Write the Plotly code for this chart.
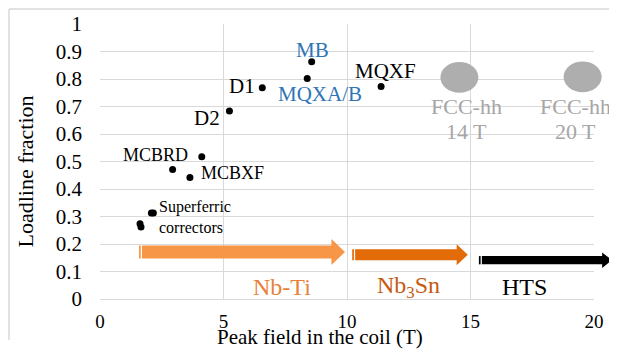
import plotly.graph_objects as go

# ---- data ----
magnets = ["MB", "MQXA/B", "D1", "MQXF", "D2", "MCBRD", "MCBRD-2", "MCBXF",
           "Superferric 1", "Superferric 2", "Superferric 3", "Superferric 4"]
peak_field = [8.57, 8.39, 6.57, 11.38, 5.24, 4.12, 2.94, 3.64, 2.08, 2.16, 1.62, 1.66]
loadline = [0.863, 0.802, 0.768, 0.773, 0.684, 0.517, 0.471, 0.442, 0.313, 0.313, 0.274, 0.262]

label_text = ["MB", "MQXA/B", "D1", "MQXF", "D2", "MCBRD", "MCBXF"]
label_x = [8.62, 8.91, 5.74, 11.54, 4.33, 2.23, 5.36]
label_y = [0.905, 0.745, 0.774, 0.829, 0.657, 0.523, 0.46]
label_size = [21, 21, 21, 21, 21, 18, 18]
label_color = ["#2E75B6", "#2E75B6", "black", "black", "black", "black", "black"]

fcc_field = [14.55, 19.54]
fcc_loadline = [0.806, 0.808]
fcc_text_x = [14.82, 19.26]
fcc_text = ["14 T", "20 T"]

# conductor arrows: start, end (T), level
cond_names = ["Nb-Ti", "Nb<sub>3</sub>Sn", "HTS"]
cond_start = [1.58, 10.21, 15.34]
cond_end = [9.92, 14.89, 20.73]
cond_level = [0.171, 0.161, 0.141]
cond_label_x = [7.37, 12.47, 17.2]
cond_label_y = [0.045, 0.045, 0.045]
cond_color = ["#F79646", "#E36C09", "#000000"]
cond_text_color = ["#E8823A", "#C55A11", "#000000"]

X_RANGE = [0, 20]
Y_RANGE = [0, 1]
FONT = "Liberation Serif"

W, H = 609, 344
ML, MR, MT, MB = 92, 23, 16, 53


def px(x):
    return (x - X_RANGE[0]) / (X_RANGE[1] - X_RANGE[0])


def py(y):
    return (y - Y_RANGE[0]) / (Y_RANGE[1] - Y_RANGE[0])


fig = go.Figure()
fig.add_trace(go.Scatter(
    x=peak_field, y=loadline, mode="markers", text=magnets,
    marker=dict(color="black", size=7), showlegend=False, hoverinfo="text+x+y",
))

shapes = []
# FCC-hh ellipses
for fx, fy in zip(fcc_field, fcc_loadline):
    shapes.append(dict(type="circle", xref="paper", yref="paper",
                       x0=px(fx - 0.77), x1=px(fx + 0.77),
                       y0=py(fy - 0.056), y1=py(fy + 0.056),
                       fillcolor="#AEAEAE", line=dict(width=0), layer="above"))

# arrows
body_half = [0.024, 0.020, 0.015]
head_half = [0.047, 0.038, 0.028]
head_len = [0.55, 0.45, 0.40]
for s, e, lv, c, bh, hh, hl in zip(cond_start, cond_end, cond_level, cond_color,
                                   body_half, head_half, head_len):
    sx = s + 0.12
    path = (f"M {px(sx)},{py(lv - bh)} L {px(e - hl)},{py(lv - bh)} "
            f"L {px(e - hl)},{py(lv - hh)} L {px(e)},{py(lv)} "
            f"L {px(e - hl)},{py(lv + hh)} L {px(e - hl)},{py(lv + bh)} "
            f"L {px(sx)},{py(lv + bh)} Z")
    shapes.append(dict(type="path", xref="paper", yref="paper", path=path,
                       fillcolor=c, line=dict(width=0), layer="above"))
    # striped start
    shapes.append(dict(type="rect", xref="paper", yref="paper",
                       x0=px(s), x1=px(s + 0.07), y0=py(lv - bh), y1=py(lv + bh),
                       fillcolor=c, line=dict(width=0), layer="above"))

# outer frame lines (top and left edges of the figure)
pw, ph = W - ML - MR, H - MT - MB
fx0 = -(ML - 1) / pw
fy1 = 1 + (MT - 1) / ph
fy0 = -(MB - 12) / ph
shapes.append(dict(type="line", xref="paper", yref="paper",
                   x0=fx0, x1=1 + MR / pw, y0=fy1, y1=fy1,
                   line=dict(color="#D9D9D9", width=1.5)))
shapes.append(dict(type="line", xref="paper", yref="paper",
                   x0=fx0, x1=fx0, y0=fy1, y1=fy0,
                   line=dict(color="#D9D9D9", width=1.5)))

annotations = []
for t, x, y, c, s in zip(label_text, label_x, label_y, label_color, label_size):
    annotations.append(dict(x=x, y=y, text=t, showarrow=False,
                            font=dict(family=FONT, size=s, color=c)))
annotations.append(dict(x=2.29, y=0.30, text="Superferric<br>correctors", showarrow=False,
                        xanchor="left", align="left",
                        font=dict(family=FONT, size=16, color="black")))
for fx, ft in zip(fcc_text_x, fcc_text):
    annotations.append(dict(x=fx, y=0.70, text="FCC-hh", showarrow=False,
                            font=dict(family=FONT, size=22, color="#A6A6A6")))
    annotations.append(dict(x=fx, y=0.61, text=ft, showarrow=False,
                            font=dict(family=FONT, size=22, color="#A6A6A6")))
for n, x, y, c in zip(cond_names, cond_label_x, cond_label_y, cond_text_color):
    annotations.append(dict(x=x, y=y, text=n, showarrow=False,
                            font=dict(family=FONT, size=24, color=c)))

# axis titles (placed as annotations to match the reference offsets)
annotations.append(dict(xref="paper", yref="paper", x=(312 - ML) / pw, y=-38 / ph,
                        text="Peak field in the coil (T)", showarrow=False,
                        xanchor="center", yanchor="middle",
                        font=dict(family=FONT, size=21, color="black")))
annotations.append(dict(xref="paper", yref="paper", x=-(ML - 17) / pw, y=1 - (163.5 - MT) / ph,
                        text="Loadline fraction", showarrow=False, textangle=-90,
                        xanchor="center", yanchor="middle",
                        font=dict(family=FONT, size=22, color="black")))

fig.update_layout(
    width=W, height=H,
    margin=dict(l=ML, r=MR, t=MT, b=MB, autoexpand=False),
    paper_bgcolor="white", plot_bgcolor="white",
    font=dict(family=FONT, color="black"),
    shapes=shapes, annotations=annotations,
    showlegend=False,
    xaxis=dict(range=X_RANGE, dtick=5, showgrid=True, gridcolor="#D9D9D9",
               gridwidth=1, zeroline=False, showline=False, automargin=False,
               tickfont=dict(family=FONT, size=19, color="black"),
               ticklabelstandoff=9),
    yaxis=dict(range=Y_RANGE, dtick=0.1, showgrid=True, gridcolor="#D9D9D9",
               gridwidth=1, zeroline=True, zerolinecolor="#D9D9D9", zerolinewidth=1,
               showline=False, tickformat="~g", automargin=False,
               tickfont=dict(family=FONT, size=21, color="black"),
               ticklabelstandoff=17),
)

fig.write_html("out.html")
